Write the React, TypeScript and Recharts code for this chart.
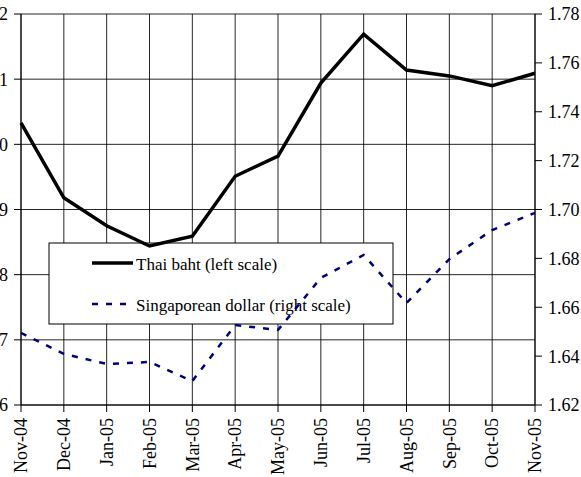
import React from "react";
import { LineChart, Line, XAxis, YAxis, CartesianGrid } from "recharts";

const months = ["Nov-04", "Dec-04", "Jan-05", "Feb-05", "Mar-05", "Apr-05", "May-05", "Jun-05", "Jul-05", "Aug-05", "Sep-05", "Oct-05", "Nov-05"];
const thaiBaht = [40.33, 39.18, 38.75, 38.44, 38.59, 39.51, 39.82, 40.94, 41.69, 41.14, 41.05, 40.9, 41.09];
const singaporeDollar = [1.6495, 1.6409, 1.6368, 1.6376, 1.6298, 1.6527, 1.6507, 1.672, 1.6814, 1.6617, 1.6797, 1.6916, 1.6986];
const leftTicks = [36, 37, 38, 39, 40, 41, 42];
const rightTicks = [1.62, 1.64, 1.66, 1.68, 1.7, 1.72, 1.74, 1.76, 1.78];
const thaiLabel = "Thai baht (left scale)";
const sgdLabel = "Singaporean dollar (right scale)";

const data = months.map((m, i) => ({ month: m, thb: thaiBaht[i], sgd: singaporeDollar[i] }));

const FONT = "'Liberation Serif', 'Times New Roman', serif";
const NAVY = "#000080";

const XTick = (props: any) => {
  const { x, y, payload } = props;
  return (
    <g transform={`translate(${x},${y})`}>
      <text transform="rotate(-90)" textAnchor="end" dy="0.35em" fontFamily={FONT} fontSize={18} fill="#000">
        {payload.value}
      </text>
    </g>
  );
};

const LegendBox = () => (
  <g>
    <rect x={68} y={243} width={344} height={81} fill="#fff" stroke="#000" strokeWidth={1} />
    <line x1={111} y1={263} x2={152} y2={263} stroke="#000" strokeWidth={3.5} />
    <text x={155} y={270} fontFamily={FONT} fontSize={17} fill="#000">{thaiLabel}</text>
    <line x1={111} y1={304} x2={152} y2={304} stroke={NAVY} strokeWidth={2.5} strokeDasharray="6 8" />
    <text x={155} y={311} fontFamily={FONT} fontSize={17} fill="#000">{sgdLabel}</text>
  </g>
);

export default function App() {
  return (
    <div style={{ position: "absolute", left: 0, top: 0, width: 581, height: 477, overflow: "hidden", background: "#fff" }}>
      <div style={{ position: "absolute", left: -19, top: 0 }}>
        <LineChart width={600} height={477} data={data} margin={{ top: 14, right: 0, left: 0, bottom: 0 }}>
          <CartesianGrid yAxisId="left" stroke="#000" strokeWidth={1} strokeOpacity={0.85} ticks={leftTicks as any} />
          <XAxis
            dataKey="month"
            interval={0}
            height={72}
            tickSize={7}
            tickMargin={6}
            tick={<XTick />}
            axisLine={{ stroke: "#000" }}
            tickLine={{ stroke: "#000" }}
          />
          <YAxis
            yAxisId="left"
            orientation="left"
            width={40}
            domain={[36, 42]}
            ticks={leftTicks}
            interval={0}
            tickSize={7}
            tickMargin={6}
            axisLine={{ stroke: "#000" }}
            tickLine={{ stroke: "#000" }}
            tick={{ fontFamily: FONT, fontSize: 18, fill: "#000" }}
          />
          <YAxis
            yAxisId="right"
            orientation="right"
            width={46}
            domain={[1.62, 1.78]}
            ticks={rightTicks}
            interval={0}
            tickSize={7}
            tickMargin={6}
            tickFormatter={(v: number) => v.toFixed(2)}
            axisLine={{ stroke: "#000" }}
            tickLine={{ stroke: "#000" }}
            tick={{ fontFamily: FONT, fontSize: 18, fill: "#000", textAnchor: "start" }}
          />
          <LegendBox />
          <Line
            yAxisId="right"
            type="linear"
            dataKey="sgd"
            stroke={NAVY}
            strokeWidth={2.5}
            strokeDasharray="6 8"
            dot={false}
            activeDot={false}
            isAnimationActive={false}
          />
          <Line
            yAxisId="left"
            type="linear"
            dataKey="thb"
            stroke="#000"
            strokeWidth={3.5}
            dot={false}
            activeDot={false}
            isAnimationActive={false}
          />
        </LineChart>
      </div>
    </div>
  );
}
